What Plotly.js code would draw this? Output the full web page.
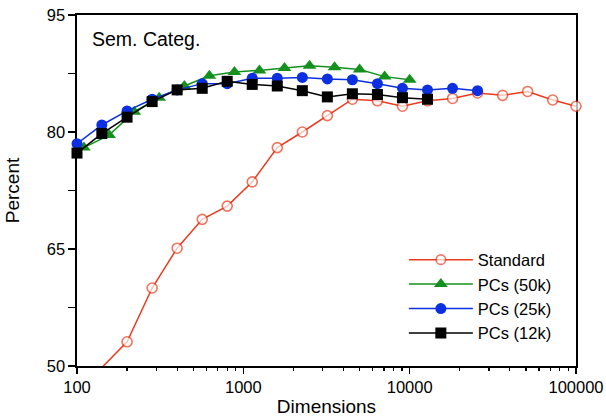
<!DOCTYPE html>
<html>
<head>
<meta charset="utf-8">
<script src="https://cdn.plot.ly/plotly-3.0.1.min.js"></script>
<style>html,body{margin:0;padding:0;background:#fff;}#chart{width:606px;height:417px;}</style>
</head>
<body>
<div id="chart"></div>
<script>
// ---- data ----
const seriesNames = ["Standard", "PCs (50k)", "PCs (25k)", "PCs (12k)"];

const standardDims = [141, 200, 283, 400, 566, 800, 1131, 1600, 2263, 3200, 4525, 6400, 9051, 12800, 18102, 25600, 36204, 51200, 72408, 100000];
const standardPct  = [49.8, 53.1, 60.0, 65.1, 68.8, 70.5, 73.6, 78.0, 80.0, 82.1, 84.2, 84.0, 83.3, 84.0, 84.3, 85.0, 84.7, 85.2, 84.1, 83.3];

const pcs50Dims = [110, 156, 221, 312, 442, 625, 884, 1250, 1768, 2500, 3536, 5000, 7071, 10000];
const pcs50Pct  = [78.0, 79.6, 82.6, 84.4, 85.9, 87.2, 87.7, 87.9, 88.2, 88.5, 88.3, 88.0, 87.1, 86.7];

const pcs25Dims = [100, 141, 200, 283, 400, 566, 800, 1131, 1600, 2263, 3200, 4525, 6400, 9051, 12800, 18102, 25600];
const pcs25Pct  = [78.5, 80.9, 82.7, 84.2, 85.4, 86.2, 86.2, 86.9, 86.9, 87.0, 86.8, 86.7, 86.2, 85.6, 85.4, 85.6, 85.3];

const pcs12Dims = [100, 141, 200, 283, 400, 566, 800, 1131, 1600, 2263, 3200, 4525, 6400, 9051, 12800];
const pcs12Pct  = [77.3, 79.8, 81.9, 83.9, 85.4, 85.6, 86.5, 86.1, 85.9, 85.3, 84.5, 84.9, 84.8, 84.4, 84.2];

const xTickVals = [100, 1000, 10000, 100000];
const xTickText = ["100", "1000", "10000", "100000"];
const yTickVals = [50, 57.5, 65, 72.5, 80, 87.5, 95];
const yTickText = ["50", "", "65", "", "80", "", "95"];
const panelLabel = "Sem. Categ.";
const xTitle = "Dimensions";
const yTitle = "Percent";

// ---- styling ----
const FONT = "Liberation Sans, Arial, Helvetica, sans-serif";
const RED = "#ec3a1c", GREEN = "#14901e", BLUE = "#0c2fe0", BLACK = "#000000";

// minor ticks at 2..9 of each decade (axis decoration)
const minorVals = [];
for (let d = 100; d < 100000; d *= 10) for (let k = 2; k <= 9; k++) minorVals.push(d * k);

// hide the marker of the first red point (it lies below the axis range)
const redSizes = standardDims.map((_, i) => i === 0 ? 0 : 10);

const traces = [
  {x: standardDims, y: standardPct, name: seriesNames[0], type: "scatter", mode: "lines+markers",
   cliponaxis: false,
   line: {color: RED, width: 1.5},
   marker: {symbol: "circle", size: redSizes, color: "#ffffff", line: {color: RED, width: 1.6}}},
  {x: pcs50Dims, y: pcs50Pct, name: seriesNames[1], type: "scatter", mode: "lines+markers",
   cliponaxis: false,
   line: {color: GREEN, width: 1.5},
   marker: {symbol: "triangle-up", size: 12, color: GREEN}},
  {x: pcs25Dims, y: pcs25Pct, name: seriesNames[2], type: "scatter", mode: "lines+markers",
   cliponaxis: false,
   line: {color: BLUE, width: 1.5},
   marker: {symbol: "circle", size: 11, color: BLUE}},
  {x: pcs12Dims, y: pcs12Pct, name: seriesNames[3], type: "scatter", mode: "lines+markers",
   cliponaxis: false,
   line: {color: BLACK, width: 1.5},
   marker: {symbol: "square", size: 11, color: BLACK}}
];

const layout = {
  width: 606, height: 417,
  margin: {l: 77, r: 30, t: 15, b: 51},
  paper_bgcolor: "#fff", plot_bgcolor: "#fff",
  font: {family: FONT, color: "#000", size: 16},
  showlegend: true,
  legend: {x: 0.655, y: 0.352, xanchor: "left", yanchor: "top", itemwidth: 64,
           bgcolor: "rgba(0,0,0,0)", font: {size: 16.5, family: FONT}},
  xaxis: {
    type: "log", range: [2, 5],
    tickvals: xTickVals, ticktext: xTickText,
    ticks: "outside", ticklen: 6, tickwidth: 1.5, tickcolor: "#000",
    minor: {tickvals: minorVals, ticks: "outside", ticklen: 3, tickwidth: 1.2, tickcolor: "#000", showgrid: false},
    showgrid: false, zeroline: false,
    showline: true, mirror: true, linecolor: "#000", linewidth: 1.6,
    layer: "below traces",
    tickfont: {size: 16.5, family: FONT},
    title: {text: xTitle, font: {size: 19, family: FONT}, standoff: 5}
  },
  yaxis: {
    range: [50, 95],
    tickvals: yTickVals, ticktext: yTickText,
    ticks: "outside", ticklen: 7, tickwidth: 1.5, tickcolor: "#000",
    showgrid: false, zeroline: false,
    showline: true, mirror: true, linecolor: "#000", linewidth: 1.6,
    layer: "below traces",
    tickfont: {size: 16.5, family: FONT},
    title: {text: yTitle, font: {size: 19, family: FONT}, standoff: 22}
  },
  annotations: [{
    text: panelLabel, xref: "paper", yref: "paper", x: 0.026, y: 0.932,
    xanchor: "left", yanchor: "middle", showarrow: false,
    font: {size: 19.5, family: FONT, color: "#000"}
  }]
};

Plotly.newPlot("chart", traces, layout, {displayModeBar: false, staticPlot: true});
</script>
</body>
</html>
